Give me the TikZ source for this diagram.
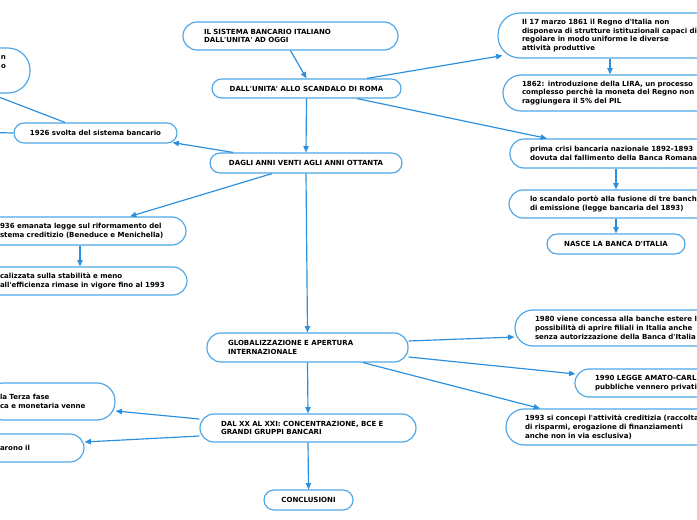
\documentclass[tikz,border=0pt]{standalone}
\usepackage{fontspec}
\newfontfamily\mapfont{DejaVu Sans}
\usepackage{xcolor}
\definecolor{edge}{HTML}{2B8FDD}
\definecolor{rim}{HTML}{4FA6E4}
\usetikzlibrary{arrows.meta}
\newlength\pxu
\setlength\pxu{0.3mm}

\begin{document}
\begin{tikzpicture}[
  x=0.3mm, y=-0.3mm,
  font=\mapfont\bfseries\fontsize{6.0}{7.5}\selectfont,
  topic/.style={draw=rim, fill=white, line width=1pt, rounded corners=14\pxu,
    inner xsep=0pt, inner ysep=0pt, align=left},
  link/.style={edge, line width=1pt, -{Triangle[length=1.9mm,width=1.6mm]}}
]
\useasboundingbox (0,0) rectangle (697,520);
\clip (0,0) rectangle (697,520);

% main line
\node[topic, minimum width=215\pxu, minimum height=28\pxu, text width=173\pxu] (title) at (290.5,36)
  {IL SISTEMA BANCARIO ITALIANO\\DALL'UNITA' AD OGGI};
\node[topic, minimum width=189\pxu, minimum height=19\pxu, rounded corners=9.5\pxu, align=center] (unita) at (306.5,88.5)
  {DALL'UNITA' ALLO SCANDALO DI ROMA};
\node[topic, minimum width=192\pxu, minimum height=20\pxu, rounded corners=10\pxu, align=center] (dagli) at (306,163)
  {DAGLI ANNI VENTI AGLI ANNI OTTANTA};
\node[topic, minimum width=201\pxu, minimum height=29\pxu, text width=159\pxu] (glob) at (307.5,347.5)
  {GLOBALIZZAZIONE E APERTURA\\INTERNAZIONALE};
\node[topic, minimum width=216\pxu, minimum height=28\pxu, text width=174\pxu] (dalxx) at (308,428)
  {DAL XX AL XXI: CONCENTRAZIONE, BCE E\\GRANDI GRUPPI BANCARI};
\node[topic, minimum width=89\pxu, minimum height=20\pxu, rounded corners=10\pxu, align=center] (concl) at (308.5,500)
  {CONCLUSIONI};

% left side
\node[topic, minimum width=90\pxu, minimum height=45\pxu, rounded corners=22\pxu, text width=42\pxu, align=right] (remote) at (-15,70.5)
  {n\\o\\\mbox{}\\\mbox{}};
\node[topic, minimum width=163\pxu, minimum height=20\pxu, rounded corners=10\pxu, align=center] (svolta) at (95.5,133)
  {1926 svolta del sistema bancario};
\node[topic, minimum width=201\pxu, minimum height=28\pxu, text width=171\pxu] (legge) at (85.5,231)
  {936 emanata legge sul riformamento del\\stema creditizio (Beneduce e Menichella)};
\node[topic, minimum width=202\pxu, minimum height=28\pxu, text width=172\pxu] (stabil) at (86,281)
  {calizzata sulla stabilità e meno\\all'efficienza rimase in vigore fino al 1993};
\node[topic, minimum width=130\pxu, minimum height=37\pxu, rounded corners=18\pxu, text width=100\pxu] (terza) at (50,401.5)
  {la Terza fase\\ca e monetaria venne};
\node[topic, minimum width=99\pxu, minimum height=28\pxu, text width=69\pxu] (arono) at (34.5,448)
  {arono il};
\coordinate (offa) at (-30,86);
\coordinate (offb) at (-30,132);

% right side
\node[topic, minimum width=242\pxu, minimum height=45\pxu, rounded corners=22\pxu, text width=194\pxu] (marzo) at (619,35.5)
  {Il 17 marzo 1861 il Regno d'Italia non\\disponeva di strutture istituzionali capaci di\\regolare in modo uniforme le diverse\\attività produttive};
\node[topic, minimum width=237\pxu, minimum height=36\pxu, rounded corners=18\pxu, text width=199\pxu] (lira) at (621.5,93)
  {1862: introduzione della LIRA, un processo\\complesso perchè la moneta del Regno non\\raggiungera il 5\% del PIL};
\node[topic, minimum width=230\pxu, minimum height=29\pxu, text width=190\pxu] (crisi) at (625,153.5)
  {prima crisi bancaria nazionale 1892-1893\\dovuta dal fallimento della Banca Romana};
\node[topic, minimum width=251\pxu, minimum height=28\pxu, text width=209\pxu] (scandalo) at (634.5,204)
  {lo scandalo portò  alla fusione di tre banch\\di emissione (legge bancaria del 1893)};
\node[topic, minimum width=138\pxu, minimum height=20\pxu, rounded corners=10\pxu, align=center] (nasce) at (616,244)
  {NASCE LA BANCA D'ITALIA};
\node[topic, minimum width=245\pxu, minimum height=36\pxu, rounded corners=18\pxu, text width=205\pxu] (y1980) at (637.5,328)
  {1980 viene concessa alla banche estere la\\possibilità di aprire filiali in Italia anche\\senza autorizzazione della Banca d'Italia};
\node[topic, minimum width=185\pxu, minimum height=28\pxu, text width=145\pxu] (y1990) at (667.5,383)
  {1990 LEGGE AMATO-CARL\\pubbliche vennero privati};
\node[topic, minimum width=254\pxu, minimum height=36\pxu, rounded corners=18\pxu, text width=216\pxu] (y1993) at (633,427)
  {1993 si concepì l'attività creditizia (raccolta\\di risparmi, erogazione di finanziamenti\\anche non in via esclusiva)};

% connectors
\draw[link] (title.south) -- (unita.north);
\draw[link] (unita.south) -- (dagli.north);
\draw[link] (dagli.south) -- (glob.north);
\draw[link] (glob.south) -- (dalxx.north);
\draw[link] (dalxx.south) -- (concl.north);
\draw[link] (unita.north -| 367,0) -- ([shift={(5,-3)}]marzo.south west);
\draw[link] (marzo.south -| 610,0) -- (lira.north -| 610,0);
\draw[link] (unita.south -| 357,0) -- (crisi.north -| 547,0);
\draw[link] (crisi.south -| nasce) -- (scandalo.north -| nasce);
\draw[link] (scandalo.south -| nasce) -- (nasce.north);
\draw[link] (dagli.north -| 233,0) -- ([shift={(-5,-1)}]svolta.south east);
\draw[link] (svolta.north -| 65,0) -- (offa);
\draw[link] (svolta.west) -- (offb);
\draw[link] (dagli.south -| 272,0) -- (legge.north -| 130,0);
\draw[link] (legge.south -| 80,0) -- (stabil.north -| 80,0);
\draw[link] (glob.east |- 0,341) -- (y1980.west |- 0,337);
\draw[link] (glob.east |- 0,357) -- ([xshift=1\pxu]y1990.west |- 0,374);
\draw[link] (glob.south -| 363,0) -- (y1993.north -| 540,0);
\draw[link] (dalxx.west |- 0,419) -- (terza.east |- 0,411);
\draw[link] (dalxx.west |- 0,436) -- (arono.east |- 0,442);
\end{tikzpicture}
\end{document}
